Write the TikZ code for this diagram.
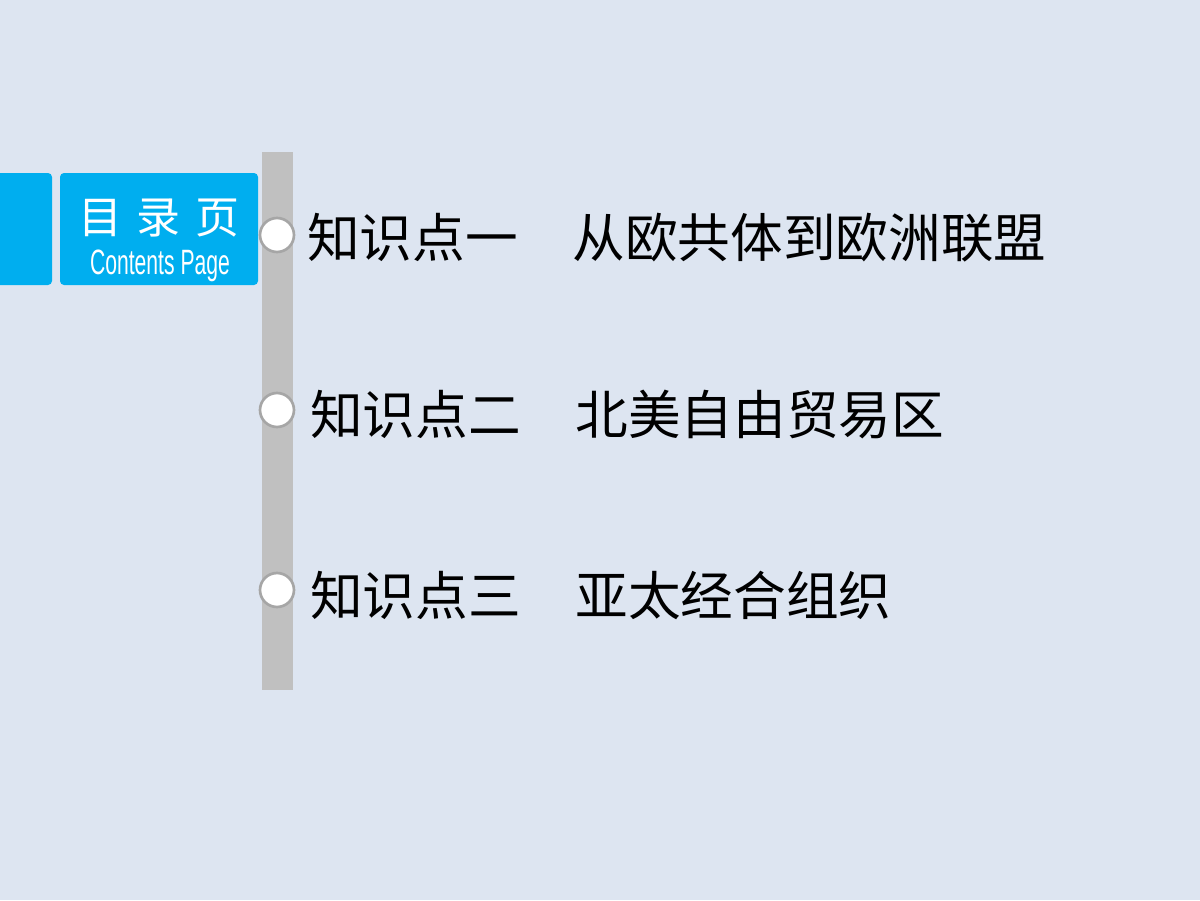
\documentclass[tikz,border=0pt]{standalone}
\usepackage{fontspec}
\newfontfamily\cjk{Noto Sans CJK SC}
\newfontfamily\lat{Liberation Sans}
\begin{document}
\begin{tikzpicture}[x=0.75pt,y=-0.75pt,
  blue box/.style={draw=none, rounded corners=3pt},
  dot/.style={circle, fill=white, draw=gray!70, line width=2pt, minimum size=34*0.75pt, inner sep=0pt},
  item/.style={anchor=west, inner sep=0pt, font=\cjk\fontsize{39.5}{41}\selectfont}]
\useasboundingbox (0,0) rectangle (1200,900);
\fill[fill={rgb,255:red,221;green,229;blue,241}] (0,0) rectangle (1200,900);
\begin{scope}
\clip (0,0) rectangle (1200,900);
\fill[blue box, fill={rgb,255:red,0;green,174;blue,239}] (-5,173) rectangle (52,285);
\end{scope}
\fill[blue box, fill={rgb,255:red,0;green,174;blue,239}] (60,173) rectangle (258,285);
\node[text=white, font=\cjk\fontsize{33}{34}\selectfont] (t1) at (159,218) {目\,\,录\,\,页};
\node[text=white, font=\lat] (t2) at (160,266) {\scalebox{0.72}[1.2]{\fontsize{22}{23}\selectfont Contents Page}};
\fill[fill={rgb,255:red,192;green,192;blue,192}] (262,152) rectangle (293,690);
\node[dot] (d1) at (277,235) {};
\node[dot] (d2) at (277,410) {};
\node[dot] (d3) at (277,590) {};
\node[item] (i1) at (307,238) {知识点一\hspace{41pt}从欧共体到欧洲联盟};
\node[item] (i2) at (310,415) {知识点二\hspace{41pt}北美自由贸易区};
\node[item] (i3) at (310,595) {知识点三\hspace{41pt}亚太经合组织};
\end{tikzpicture}
\end{document}
